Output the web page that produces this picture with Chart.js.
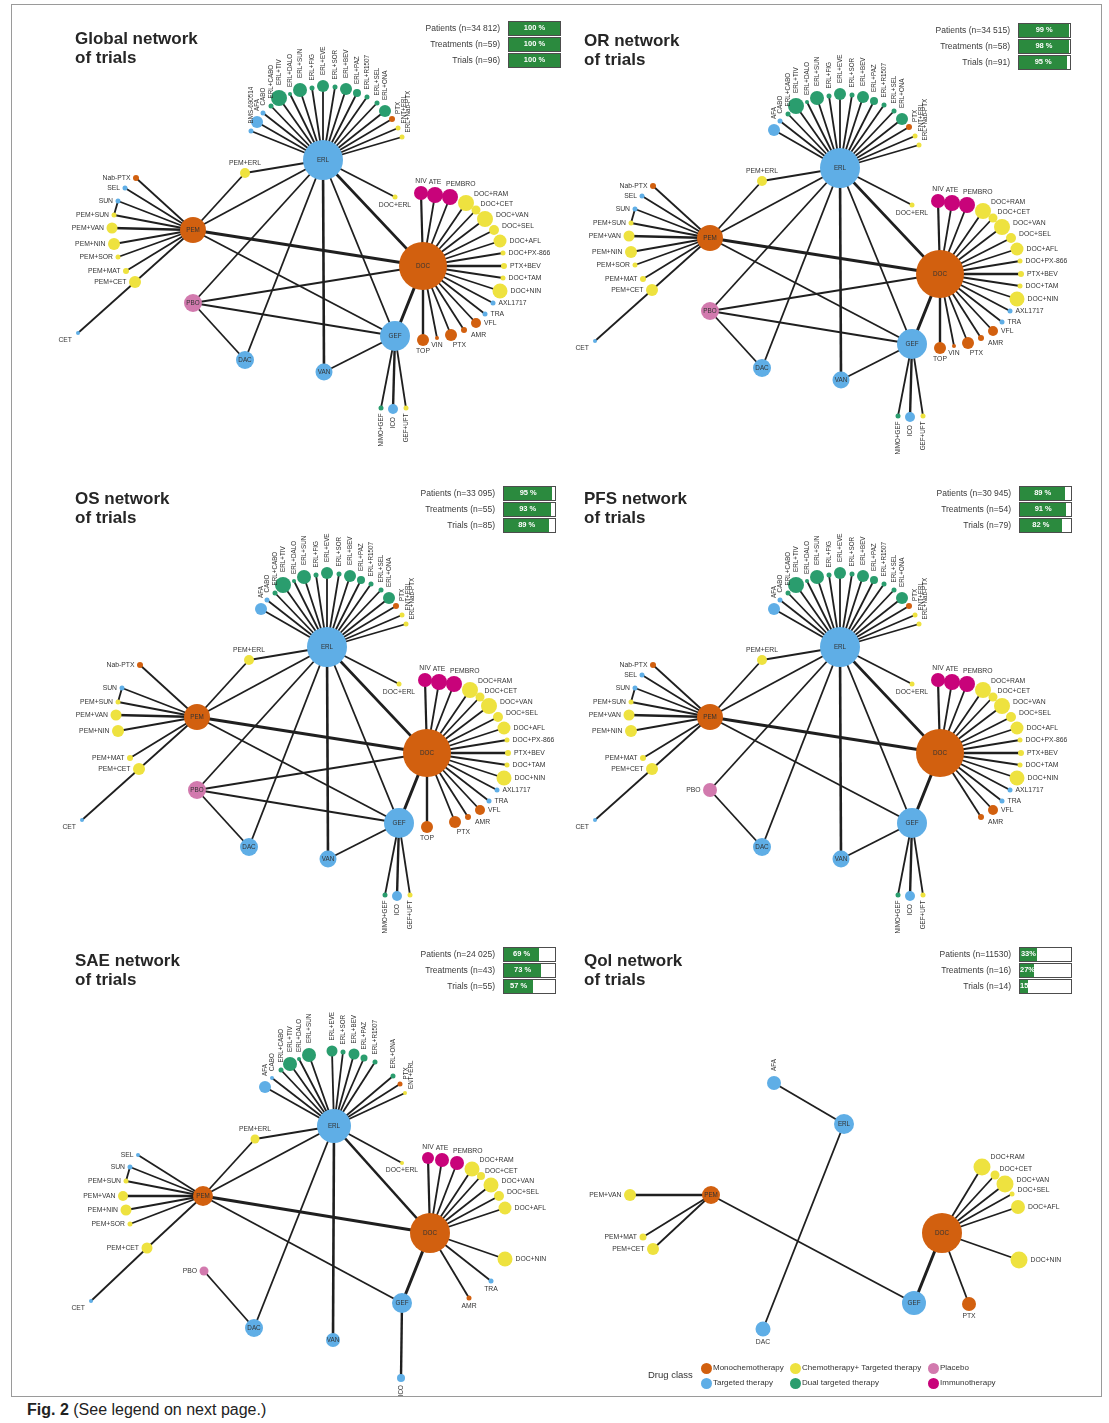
<!DOCTYPE html>
<html>
<head>
<meta charset="utf-8">
<title>Networks of trials</title>
<script src="https://cdn.jsdelivr.net/npm/chart.js@4.4.1/dist/chart.umd.min.js"></script>
<style>
  html, body { margin: 0; padding: 0; background: #fff; }
  body { width: 1109px; height: 1423px; overflow: hidden; position: relative;
         font-family: "Liberation Sans", Arial, sans-serif; color: #222; }
  .frame { position: absolute; left: 11px; top: 4px; width: 1091px; height: 1393px;
           border: 1px solid #9a9a9a; box-sizing: border-box; }
  canvas.net { position: absolute; }
  .title { position: absolute; font-weight: bold; font-size: 17px; line-height: 19px;
           color: #262626; white-space: nowrap; }
  .covlab { position: absolute; font-size: 8.5px; color: #3a3a3a; text-align: right;
            white-space: nowrap; line-height: 15px; width: 120px; }
  .covbox { position: absolute; width: 53px; height: 15px; border: 1.5px solid #4d4d4d;
            box-sizing: border-box; background: #fff; overflow: hidden; }
  .covbox .fill { position: absolute; left: 0; top: 0; bottom: 0; background: #2b8a3e;
                  color: #fff; font-weight: bold; font-size: 7.5px; line-height: 12px;
                  text-align: center; white-space: nowrap; overflow: hidden; }
  .leg { position: absolute; font-size: 8px; color: #333; white-space: nowrap; line-height: 10px; }
  .dot { position: absolute; width: 11px; height: 11px; border-radius: 50%; }
  .caption { position: absolute; left: 27px; top: 1401px; font-size: 16px; color: #222; white-space: nowrap; }
</style>
</head>
<body>
<div class="frame"></div>
<div class="caption"><b>Fig. 2</b> (See legend on next page.)</div>

<script>
// ---------- data ----------
// shared layout used by the Global, OR, OS and PFS networks
const nodeNames = ['ERL','DOC','PEM','GEF','PBO','DAC','VAN',
  'BMS-690514','AFA','CABO','ERL+CABO','ERL+TIV','ERL+DALO','ERL+SUN','ERL+FIG','ERL+EVE','ERL+SOR','ERL+BEV','ERL+PAZ','ERL+R1507','ERL+SEL','ERL+ONA','PTX*','ENT+ERL','ERL+Nab-PTX',
  'Nab-PTX','SEL','SUN','PEM+SUN','PEM+VAN','PEM+NIN','PEM+SOR','PEM+MAT','PEM+CET','CET','PEM+ERL','DOC+ERL',
  'NIV','ATE','PEMBRO','DOC+RAM','DOC+CET','DOC+VAN','DOC+SEL','DOC+AFL','DOC+PX-866','PTX+BEV','DOC+TAM','DOC+NIN','AXL1717','TRA','VFL','AMR','PTX','VIN','TOP',
  'NIMO+GEF','ICO','GEF+UFT'];
const nodeX = [308,408,178,380,178,230,309,
  236,242,248,256,264,275,285,297,308,320,331,342,352,362,370,377,383,387,
  121,110,103,99,97,99,103,111,120,63,230,380,
  406,420,435,451,461,470,479,485,488,489,488,485,478,470,461,449,436,422,408,
  366,378,391];
const nodeY = [148,254,218,324,291,348,360,
  119,110,101,94,86,82,78,76,74,75,77,81,85,91,99,107,116,125,
  166,176,189,203,216,232,245,259,270,321,161,185,
  181,183,185,191,198,207,218,229,241,254,266,279,291,302,311,318,323,326,328,
  396,397,396];
const nodeSize = [20,24,13,15,9,9,8.5,
  2.5,6,2.5,2.5,8,2,7,2.5,6,2.5,6,4,2.5,2.5,6,3,2.5,2.5,
  3,2.5,2.5,2.5,5.5,6,2.5,3,6,2,5,2.5,
  7,8,8,8,4.5,8,5,6.5,2.5,3,2.5,7.5,2.5,2.5,5,3,6,2,6,
  2.5,5,2.5];
const nodeClass = ['T','M','M','T','P','T','T',
  'T','T','T','D','D','D','D','D','D','D','D','D','D','D','D','M','C','C',
  'M','T','T','C','C','C','C','C','C','T','C','C',
  'I','I','I','C','C','C','C','C','C','C','C','C','T','T','M','M','M','M','M',
  'D','T','C'];
const sharedLinks = {
  'ERL': ['BMS-690514','AFA','CABO','ERL+CABO','ERL+TIV','ERL+DALO','ERL+SUN','ERL+FIG','ERL+EVE','ERL+SOR','ERL+BEV','ERL+PAZ','ERL+R1507','ERL+SEL','ERL+ONA','PTX*','ENT+ERL','ERL+Nab-PTX','PEM+ERL','DOC+ERL','PEM','DOC','GEF','VAN','DAC','PBO'],
  'PEM': ['Nab-PTX','SEL','SUN','PEM+SUN','PEM+VAN','PEM+NIN','PEM+SOR','PEM+MAT','PEM+CET','PEM+ERL','DOC','GEF'],
  'DOC': ['NIV','ATE','PEMBRO','DOC+RAM','DOC+CET','DOC+VAN','DOC+SEL','DOC+AFL','DOC+PX-866','PTX+BEV','DOC+TAM','DOC+NIN','AXL1717','TRA','VFL','AMR','PTX','VIN','TOP','GEF','PBO'],
  'GEF': ['NIMO+GEF','ICO','GEF+UFT','VAN','PBO'],
  'PBO': ['DAC'],
  'SUN': ['PEM+SUN'],
  'CET': ['PEM+CET']
};
const orDrop = ['BMS-690514'];
const osDrop = ['BMS-690514','SEL','PEM+SOR','VIN'];
const pfsDrop = ['BMS-690514','PEM+SOR','PTX','VIN','TOP'];
const pfsDropLinks = [['DOC','PBO'],['GEF','PBO']];

// SAE network
const saeNames = ['ERL','DOC','PEM','GEF','PBO','DAC','VAN','ICO',
  'AFA','CABO','ERL+CABO','ERL+TIV','ERL+DALO','ERL+SUN','ERL+EVE','ERL+SOR','ERL+BEV','ERL+PAZ','ERL+R1507','ERL+ONA','PTX*','ENT+ERL',
  'SEL','SUN','PEM+SUN','PEM+VAN','PEM+NIN','PEM+SOR','PEM+CET','CET','PEM+ERL','DOC+ERL',
  'NIV','ATE','PEMBRO','DOC+RAM','DOC+CET','DOC+VAN','DOC+SEL','DOC+AFL','DOC+NIN','TRA','AMR'];
const saeX = [310,406,179,378,180,230,309,377,
  241,248,257,266,275,285,308,319,330,340,351,369,376,381,
  114,106,102,99,102,106,123,67,231,378,
  404,418,433,448,457,467,475,481,481,467,445];
const saeY = [148,255,218,325,293,350,362,400,
  109,100,92,86,81,77,73,74,76,80,84,98,106,115,
  177,189,203,218,232,246,270,323,161,185,
  180,182,185,191,198,207,218,230,281,303,320];
const saeSize = [17,20,10,10,4.5,9,7,4,
  6,2,2.5,7,2,7,5.5,2.5,5.5,3.5,2.5,2.5,2.5,2,
  2,2.5,2.5,5,5.5,2.5,5.5,2,4.5,2,
  6,7,7,7.5,4,7.5,5,6.5,7.5,2.5,2.5];
const saeClass = ['T','M','M','T','P','T','T','T',
  'T','T','D','D','D','D','D','D','D','D','D','D','M','C',
  'T','T','C','C','C','C','C','T','C','C',
  'I','I','I','C','C','C','C','C','C','T','M'];
const saeLinks = {
  'ERL': ['AFA','CABO','ERL+CABO','ERL+TIV','ERL+DALO','ERL+SUN','ERL+EVE','ERL+SOR','ERL+BEV','ERL+PAZ','ERL+R1507','ERL+ONA','PTX*','ENT+ERL','PEM+ERL','DOC+ERL','PEM','DOC','DAC','VAN'],
  'PEM': ['SEL','SUN','PEM+SUN','PEM+VAN','PEM+NIN','PEM+SOR','PEM+CET','PEM+ERL','DOC','GEF'],
  'DOC': ['NIV','ATE','PEMBRO','DOC+RAM','DOC+CET','DOC+VAN','DOC+SEL','DOC+AFL','DOC+NIN','TRA','AMR','GEF'],
  'GEF': ['ICO'],
  'PBO': ['DAC'],
  'SUN': ['PEM+SUN'],
  'CET': ['PEM+CET']
};

// QoL network
const qolNames = ['ERL','DOC','PEM','GEF','DAC','AFA','PEM+VAN','PEM+MAT','PEM+CET','PTX','DOC+RAM','DOC+CET','DOC+VAN','DOC+SEL','DOC+AFL','DOC+NIN'];
const qolX = [310,408,177,380,229,240,96,109,119,435,448,461,471,478,484,485];
const qolY = [146,255,217,325,351,105,217,259,271,326,189,197,206,216,229,282];
const qolSize = [10,20,9,12,7.5,7,6,3.5,6,7,8.5,4.5,8.5,2.5,7,8.5];
const qolClass = ['T','M','M','T','T','T','C','C','C','M','C','C','C','C','C','C'];
const qolLinks = {
  'ERL': ['AFA','DAC'],
  'PEM': ['PEM+VAN','PEM+MAT','PEM+CET','GEF'],
  'DOC': ['GEF','PTX','DOC+RAM','DOC+CET','DOC+VAN','DOC+SEL','DOC+AFL','DOC+NIN']
};

// edges with more trials (drawn thicker)
const linkWeights = [['PEM','DOC',3],['DOC','GEF',3],['ERL','DOC',2.6],['ERL','VAN',2.6],
  ['PEM','PEM+VAN',2.6],['DOC','PTX+BEV',2.6],['DOC','TOP',2.4],['DOC','NIV',2.2],['GEF','ICO',2.4]];

// coverage of each network
const panelTitles = ['Global network','OR network','OS network','PFS network','SAE network','Qol network'];
const patientsN = ['34 812','34 515','33 095','30 945','24 025','11530'];
const treatmentsN = [59, 58, 55, 54, 43, 16];
const trialsN = [96, 91, 85, 79, 55, 14];
const patientsPct = [100, 99, 95, 89, 69, 33];
const treatmentsPct = [100, 98, 93, 91, 73, 27];
const trialsPct = [100, 95, 89, 82, 57, 15];

const classNames = ['Monochemotherapy','Chemotherapy+ Targeted therapy','Placebo','Targeted therapy','Dual targeted therapy','Immunotherapy'];
const classCodes = ['M','C','P','T','D','I'];

// ---------- styles ----------
const classColor = { M: '#D2600F', T: '#5FAEE6', C: '#EEE23F', D: '#2A9D6E', P: '#D27AAE', I: '#C8037A' };

const labelSide = {};
['ERL','DOC','PEM','GEF','PBO','DAC','VAN'].forEach(n => labelSide[n] = 'c');
['BMS-690514','AFA','CABO','ERL+CABO','ERL+TIV','ERL+DALO','ERL+SUN','ERL+FIG','ERL+EVE','ERL+SOR','ERL+BEV','ERL+PAZ','ERL+R1507','ERL+SEL','ERL+ONA'].forEach(n => labelSide[n] = 't');
['PTX*','ENT+ERL','ERL+Nab-PTX'].forEach(n => labelSide[n] = 'tr');
['Nab-PTX','SEL','SUN','PEM+SUN','PEM+VAN','PEM+NIN','PEM+SOR','PEM+MAT','PEM+CET'].forEach(n => labelSide[n] = 'l');
labelSide['CET'] = 'bl';
['PEM+ERL','NIV','ATE'].forEach(n => labelSide[n] = 'a');
labelSide['PEMBRO'] = 'ar';
['DOC+ERL','VIN','TOP'].forEach(n => labelSide[n] = 'b');
['DOC+RAM','DOC+CET'].forEach(n => labelSide[n] = 'ru');
['DOC+VAN','DOC+SEL'].forEach(n => labelSide[n] = 'rr');
['DOC+AFL','DOC+PX-866','PTX+BEV','DOC+TAM','DOC+NIN','AXL1717','TRA','VFL'].forEach(n => labelSide[n] = 'r');
labelSide['AMR'] = 'rd';
labelSide['PTX'] = 'br';
['NIMO+GEF','ICO','GEF+UFT'].forEach(n => labelSide[n] = 'v');

const panels = [
  { canvas: [15, 12],  title: [75, 29],   box: [508, 21],  names: nodeNames, xs: nodeX, ys: nodeY, sizes: nodeSize, classes: nodeClass, links: sharedLinks, drop: [],      dropLinks: [], sizeOver: {}, sideOver: {} },
  { canvas: [532, 20], title: [584, 31],  box: [1018, 23], names: nodeNames, xs: nodeX, ys: nodeY, sizes: nodeSize, classes: nodeClass, links: sharedLinks, drop: orDrop,  dropLinks: [], sizeOver: {}, sideOver: {} },
  { canvas: [19, 499], title: [75, 489],  box: [503, 486], names: nodeNames, xs: nodeX, ys: nodeY, sizes: nodeSize, classes: nodeClass, links: sharedLinks, drop: osDrop,  dropLinks: [], sizeOver: {}, sideOver: {} },
  { canvas: [532, 499],title: [584, 489], box: [1019, 486],names: nodeNames, xs: nodeX, ys: nodeY, sizes: nodeSize, classes: nodeClass, links: sharedLinks, drop: pfsDrop, dropLinks: pfsDropLinks, sizeOver: { PBO: 7 }, sideOver: { PBO: 'l' } },
  { canvas: [24, 978], title: [75, 951],  box: [503, 947], names: saeNames, xs: saeX, ys: saeY, sizes: saeSize, classes: saeClass, links: saeLinks, drop: [], dropLinks: [], sizeOver: {}, sideOver: { PBO: 'l', TRA: 'b', AMR: 'b' } },
  { canvas: [534, 978],title: [584, 951], box: [1019, 947],names: qolNames, xs: qolX, ys: qolY, sizes: qolSize, classes: qolClass, links: qolLinks, drop: [], dropLinks: [], sizeOver: {}, sideOver: { DAC: 'b', PTX: 'b' } }
];

const CW = 545, CH = 465;
const FONT = '"Liberation Sans", Arial, sans-serif';

// ---------- node label plugin ----------
const nodeLabels = {
  id: 'nodeLabels',
  afterDatasetsDraw(chart) {
    const idx = chart.data.datasets.findIndex(d => d.type === 'bubble');
    const ds = chart.data.datasets[idx];
    const meta = chart.getDatasetMeta(idx);
    const ctx = chart.ctx;
    meta.data.forEach((el, i) => {
      const d = ds.data[i];
      const x = el.x, y = el.y, r = d.r;
      const text = d.name.replace('*', '');
      ctx.save();
      ctx.fillStyle = '#333';
      ctx.font = '6.8px ' + FONT;
      ctx.textBaseline = 'middle';
      switch (d.side) {
        case 'c':  ctx.textAlign = 'center'; ctx.font = '6.3px ' + FONT; ctx.fillText(text, x, y + 0.5); break;
        case 'l':  ctx.textAlign = 'right'; ctx.fillText(text, x - r - 2.5, y); break;
        case 'bl': ctx.textAlign = 'right'; ctx.fillText(text, x - r - 4, y + 7); break;
        case 'r':  ctx.textAlign = 'left'; ctx.fillText(text, x + r + 3, y); break;
        case 'rr': ctx.textAlign = 'left'; ctx.fillText(text, x + r + 3, y - 4); break;
        case 'ru': ctx.textAlign = 'left'; ctx.fillText(text, x + r, y - r - 1); break;
        case 'rd': ctx.textAlign = 'left'; ctx.fillText(text, x + r + 4, y + 5); break;
        case 'a':  ctx.textAlign = 'center'; ctx.textBaseline = 'bottom'; ctx.fillText(text, x, y - r - 1.5); break;
        case 'ar': ctx.textAlign = 'left'; ctx.textBaseline = 'bottom'; ctx.fillText(text, x - 4, y - r - 1.5); break;
        case 'b':  ctx.textAlign = 'center'; ctx.textBaseline = 'top'; ctx.fillText(text, x, y + r + 2); break;
        case 'br': ctx.textAlign = 'left'; ctx.textBaseline = 'top'; ctx.fillText(text, x + r * 0.3, y + r + 1); break;
        case 't':
          ctx.font = '6.3px ' + FONT;
          ctx.translate(x, y - r - 5); ctx.rotate(-Math.PI / 2);
          ctx.textAlign = 'left'; ctx.fillText(text, 0, 0); break;
        case 'tr':
          ctx.font = '6.3px ' + FONT;
          ctx.translate(x + 6, y - r - 2); ctx.rotate(-Math.PI / 2);
          ctx.textAlign = 'left'; ctx.fillText(text, 0, 0); break;
        case 'v':
          ctx.font = '6.3px ' + FONT;
          ctx.translate(x, y + r + 3); ctx.rotate(-Math.PI / 2);
          ctx.textAlign = 'right'; ctx.fillText(text, 0, 0); break;
      }
      ctx.restore();
    });
  }
};

function linkWidth(a, b) {
  const w = linkWeights.find(l => (l[0] === a && l[1] === b) || (l[0] === b && l[1] === a));
  return w ? w[2] : 1.8;
}

function drawPanel(p, k) {
  // nodes
  const nodes = [];
  p.names.forEach((n, i) => {
    if (p.drop.includes(n)) return;
    nodes.push({ name: n, x: p.xs[i], y: p.ys[i], r: p.sizeOver[n] || p.sizes[i], cls: p.classes[i],
                 side: p.sideOver[n] || labelSide[n] || 'r' });
  });
  const byName = {};
  nodes.forEach(n => byName[n.name] = n);

  // edges
  const datasets = [];
  Object.keys(p.links).forEach(a => {
    p.links[a].forEach(b => {
      if (!byName[a] || !byName[b]) return;
      if (p.dropLinks.some(l => l[0] === a && l[1] === b)) return;
      datasets.push({
        type: 'line',
        data: [{ x: byName[a].x, y: byName[a].y }, { x: byName[b].x, y: byName[b].y }],
        borderColor: '#1f1f1f', borderWidth: linkWidth(a, b),
        pointRadius: 0, fill: false, tension: 0, clip: false, order: 2
      });
    });
  });
  datasets.push({
    type: 'bubble',
    data: nodes.map(n => ({ x: n.x, y: n.y, r: n.r, name: n.name, side: n.side })),
    backgroundColor: nodes.map(n => classColor[n.cls]),
    borderWidth: 0, clip: false, order: 1
  });

  const cv = document.createElement('canvas');
  cv.className = 'net';
  cv.width = CW; cv.height = CH;
  cv.style.left = p.canvas[0] + 'px'; cv.style.top = p.canvas[1] + 'px';
  cv.style.width = CW + 'px'; cv.style.height = CH + 'px';
  document.body.appendChild(cv);

  new Chart(cv, {
    type: 'scatter',
    data: { datasets },
    options: {
      responsive: false, animation: false, events: [],
      layout: { padding: 0, autoPadding: false },
      plugins: { legend: { display: false }, tooltip: { enabled: false } },
      scales: {
        x: { type: 'linear', min: 0, max: CW, display: false },
        y: { type: 'linear', min: 0, max: CH, reverse: true, display: false }
      }
    },
    plugins: [nodeLabels]
  });

  // title
  const t = document.createElement('div');
  t.className = 'title';
  t.style.left = p.title[0] + 'px'; t.style.top = p.title[1] + 'px';
  t.innerHTML = panelTitles[k] + '<br>of trials';
  document.body.appendChild(t);

  // coverage boxes
  const rows = [
    ['Patients (n=' + patientsN[k] + ')', patientsPct[k]],
    ['Treatments (n=' + treatmentsN[k] + ')', treatmentsPct[k]],
    ['Trials (n=' + trialsN[k] + ')', trialsPct[k]]
  ];
  rows.forEach((row, j) => {
    const top = p.box[1] + j * 16;
    const lab = document.createElement('div');
    lab.className = 'covlab';
    lab.style.left = (p.box[0] - 8 - 120) + 'px';
    lab.style.top = top + 'px';
    lab.textContent = row[0];
    document.body.appendChild(lab);
    const box = document.createElement('div');
    box.className = 'covbox';
    box.style.left = p.box[0] + 'px'; box.style.top = top + 'px';
    const fill = document.createElement('div');
    fill.className = 'fill';
    fill.style.width = row[1] + '%';
    fill.textContent = k === 5 ? row[1] + '%' : row[1] + ' %';
    box.appendChild(fill);
    document.body.appendChild(box);
  });
}

panels.forEach(drawPanel);

// ---------- drug class legend ----------
const legCols = [706, 795, 933];
const legRows = [1368, 1383];
const dc = document.createElement('div');
dc.className = 'leg';
dc.style.fontSize = '9.5px';
dc.style.left = '648px'; dc.style.top = '1370px';
dc.textContent = 'Drug class';
document.body.appendChild(dc);
classNames.forEach((name, i) => {
  const cx = legCols[i % 3], cy = legRows[Math.floor(i / 3)];
  const dot = document.createElement('div');
  dot.className = 'dot';
  dot.style.left = (cx - 5.5) + 'px'; dot.style.top = (cy - 5.5) + 'px';
  dot.style.background = classColor[classCodes[i]];
  document.body.appendChild(dot);
  const lab = document.createElement('div');
  lab.className = 'leg';
  lab.style.left = (cx + 7) + 'px'; lab.style.top = (cy - 5) + 'px';
  lab.textContent = name;
  document.body.appendChild(lab);
});
</script>
</body>
</html>
